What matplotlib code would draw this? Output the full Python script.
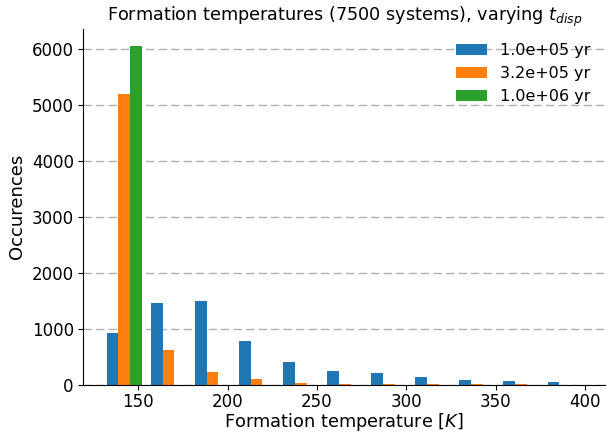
import matplotlib
matplotlib.use('Agg')
import matplotlib.pyplot as plt
import numpy as np

# bin edges of the formation temperature histogram [K]
t_min = 130.
t_max = 401.
n_bins = 11
labels = ['1.0e+05 yr', '3.2e+05 yr', '1.0e+06 yr']

# counts per bin
counts_1e5 = [923, 1456, 1491, 781, 408, 248, 208, 137, 83, 66, 48]
counts_3e5 = [5196, 621, 225, 106, 35, 6, 3, 2, 1, 1, 0]
counts_1e6 = [6048, 0, 0, 0, 0, 0, 0, 0, 0, 0, 0]

edges = np.linspace(t_min, t_max, n_bins+1)
centers = 0.5*(edges[1:]+edges[:-1])

fig = plt.figure(figsize=(6.08, 4.34), dpi=100)
ax = fig.add_axes([0.1373, 0.114, 0.858, 0.819])

ax.hist([centers, centers, centers], bins=edges,
        weights=[counts_1e5, counts_3e5, counts_1e6],
        label=labels, color=['#1f77b4', '#ff7f0e', '#2ca02c'])

ax.set_xlim(119.5, 411)
ax.yaxis.grid(True, linestyle='--', color='#b0b0b0', linewidth=1.0, dashes=(6, 3))
ax.set_axisbelow(True)
ax.spines['top'].set_visible(False)
ax.spines['right'].set_visible(False)
ax.tick_params(labelsize=12)
ax.tick_params(axis='x', pad=2.5)
ax.set_xlabel('Formation temperature [$K$]', fontsize=12.8, labelpad=0)
ax.set_ylabel('Occurences', fontsize=13)
ax.set_title('Formation temperatures (7500 systems), varying $t_{disp}$', fontsize=12.7)
ax.legend(frameon=False, fontsize=11.5)

fig.savefig('out.png')
